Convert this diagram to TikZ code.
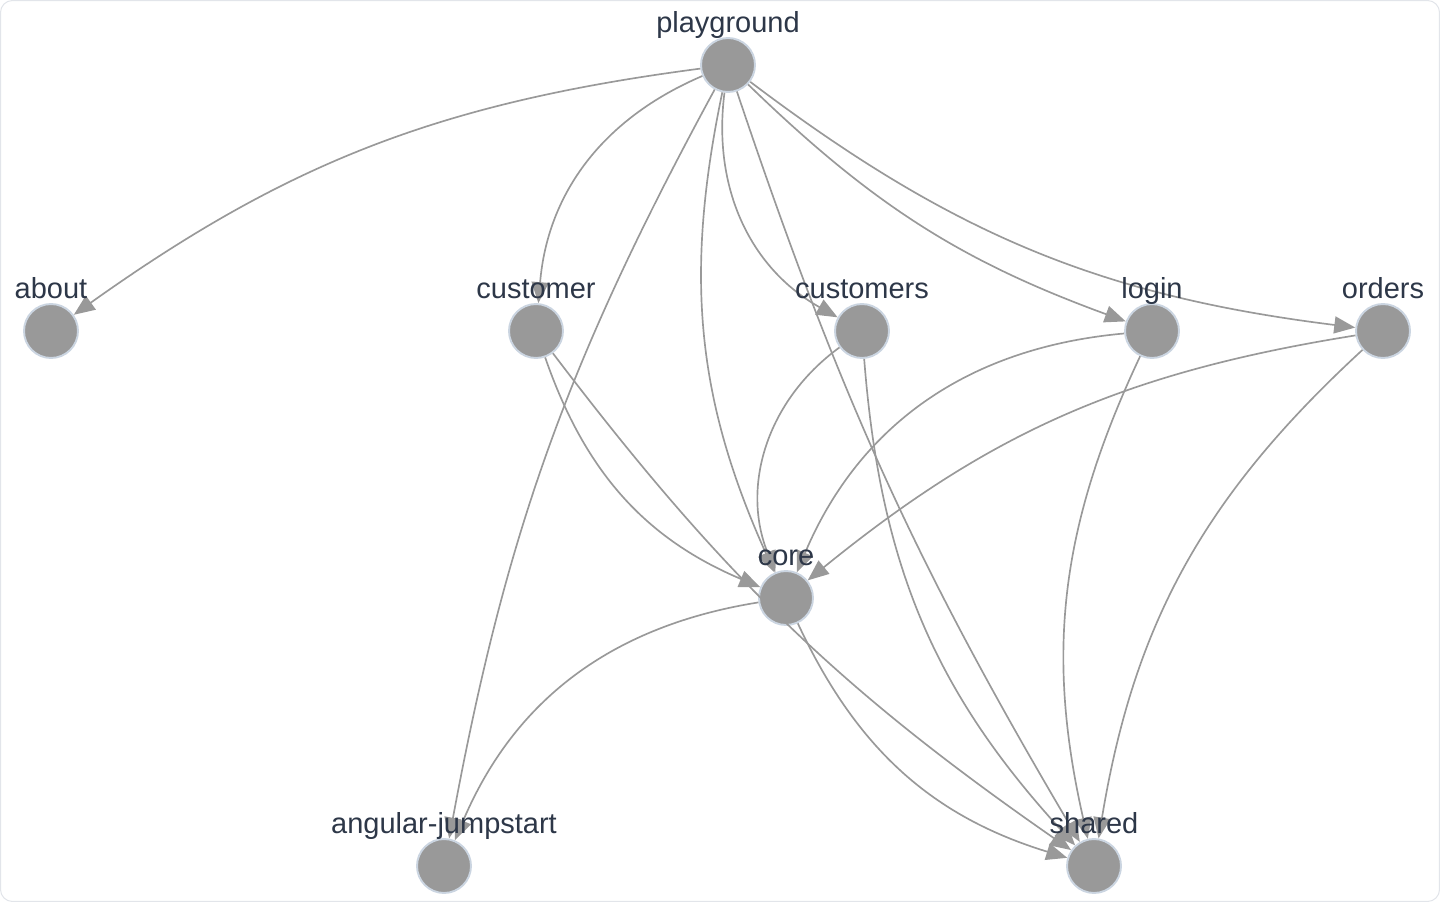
\documentclass[tikz,border=0pt]{standalone}
\usepackage{fontspec}
\setmainfont{Liberation Sans}
\usepackage{tikz}
\usetikzlibrary{arrows.meta}
\definecolor{nodegray}{RGB}{153,153,153}
\definecolor{ringblue}{RGB}{203,213,225}
\definecolor{textslate}{RGB}{45,55,72}
\definecolor{framegray}{RGB}{226,229,234}
\tikzset{
    modulo/.style={circle, draw=ringblue, fill=nodegray, line width=1.1pt, minimum size=1.08cm, inner sep=0pt},
    rotulo/.style={anchor=base, inner sep=0pt, text=textslate, font=\fontsize{16.5}{19}\selectfont},
    ligacao/.style={draw=nodegray, line width=0.95pt, -{Triangle[length=0.42cm, width=0.34cm]}}
}

\begin{document}
\begin{tikzpicture}[x=0.02cm, y=-0.02cm]
    \useasboundingbox (0,0) rectangle (1440,902);
    \draw[framegray, rounded corners=0.24cm, line width=0.6pt] (0.5,0.5) rectangle (1439.5,901.5);

    % modules
    \node[modulo] (pg) at (728,65) {};
    \node[modulo] (about) at (51,331) {};
    \node[modulo] (customer) at (536,331) {};
    \node[modulo] (customers) at (862,331) {};
    \node[modulo] (login) at (1152,331) {};
    \node[modulo] (orders) at (1383,331) {};
    \node[modulo] (core) at (786,598) {};
    \node[modulo] (aj) at (444,866) {};
    \node[modulo] (shared) at (1094,866) {};

    % dependencies
    \draw[ligacao] (pg) to[bend right=14] (about);
    \draw[ligacao] (pg) to[bend right=31] (customer);
    \draw[ligacao] (pg) to[bend right=34] (customers);
    \draw[ligacao] (pg) to[bend right=12] (login);
    \draw[ligacao] (pg) to[bend right=15] (orders);
    \draw[ligacao] (pg) to[bend right=18] (core);
    \draw[ligacao] (pg) to[bend right=6] (shared);
    \draw[ligacao] (pg) to[bend right=9] (aj);
    \draw[ligacao] (customer) to[bend right=24] (core);
    \draw[ligacao] (customer) to[bend right=9] (shared);
    \draw[ligacao] (customers) to[bend right=38] (core);
    \draw[ligacao] (customers) to[bend right=19] (shared);
    \draw[ligacao] (login) to[bend right=31] (core);
    \draw[ligacao] (login) to[bend right=19] (shared);
    \draw[ligacao] (orders) to[bend right=15] (core);
    \draw[ligacao] (orders) to[bend right=19] (shared);
    \draw[ligacao] (core) to[bend right=24] (shared);
    \draw[ligacao] (core) to[bend right=29] (aj);

    % names
    \node[rotulo] (pg-l) at ([yshift=0.66cm]pg.center) {playground};
    \node[rotulo] (about-l) at ([yshift=0.66cm]about.center) {about};
    \node[rotulo] (customer-l) at ([yshift=0.66cm]customer.center) {customer};
    \node[rotulo] (customers-l) at ([yshift=0.66cm]customers.center) {customers};
    \node[rotulo] (login-l) at ([yshift=0.66cm]login.center) {login};
    \node[rotulo] (orders-l) at ([yshift=0.66cm]orders.center) {orders};
    \node[rotulo] (core-l) at ([yshift=0.66cm]core.center) {core};
    \node[rotulo] (aj-l) at ([yshift=0.66cm]aj.center) {angular-jumpstart};
    \node[rotulo] (shared-l) at ([yshift=0.66cm]shared.center) {shared};
\end{tikzpicture}
\end{document}
